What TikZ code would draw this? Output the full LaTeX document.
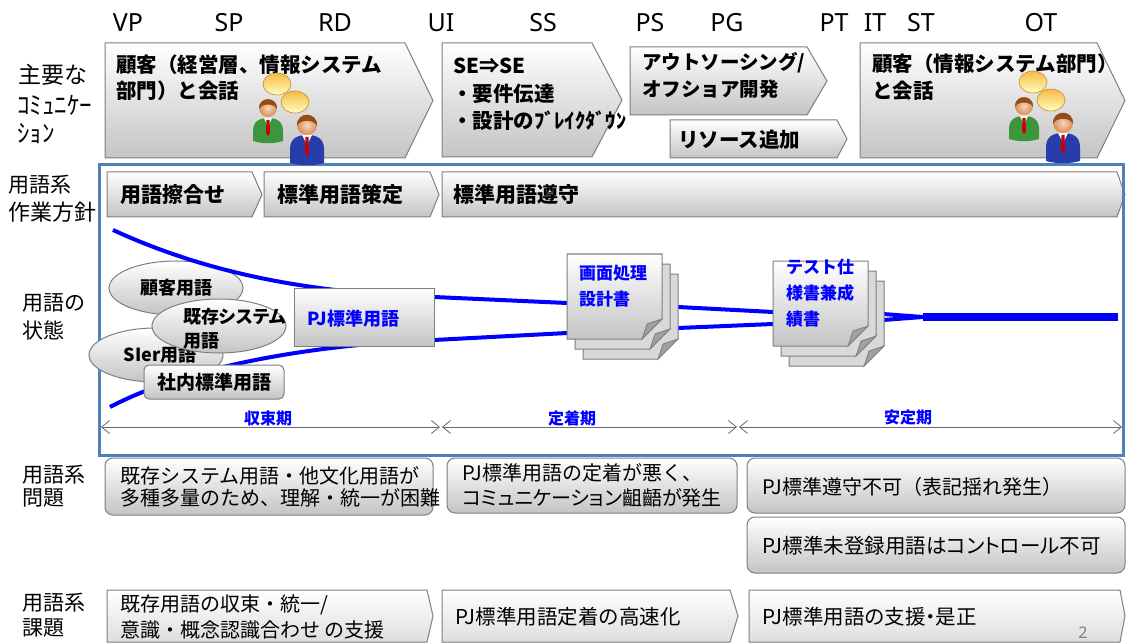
\documentclass[tikz,border=0pt]{standalone}
\usepackage{fontspec}
\setmainfont{Noto Sans CJK JP}
\newfontfamily\jpui{Noto Sans CJK JP}[RawFeature=+palt]
\newfontfamily\latf{Noto Sans}
\usetikzlibrary{arrows.meta,shapes.geometric}

\definecolor{edgegray}{RGB}{127,127,127}
\definecolor{shadelo}{RGB}{196,196,196}
\definecolor{shadelight}{RGB}{222,222,222}
\definecolor{framec}{RGB}{79,129,189}
\definecolor{termblue}{RGB}{0,0,255}
\definecolor{dimc}{RGB}{105,105,105}
\definecolor{backpage}{RGB}{217,217,217}
\definecolor{foldc}{RGB}{160,160,160}
\definecolor{skin}{RGB}{220,140,80}
\definecolor{hair}{RGB}{150,75,25}
\definecolor{shirtg}{RGB}{60,150,60}
\definecolor{shirtb}{RGB}{40,60,170}
\definecolor{bubblec}{RGB}{245,185,70}
\definecolor{bubbleedge}{RGB}{200,140,40}

\newcommand\arrowshape[6]{%
  \path[#1] (#2,#3) -- (#4,#3) -- (#5,{(#3+#6)/2}) -- (#4,#6) -- (#2,#6) -- cycle;}

\tikzset{
  chev/.style={draw=edgegray, line width=1pt, top color=white, bottom color=shadelo},
  taskchev/.style={draw=edgegray, line width=1pt, top color=white, bottom color=shadelight},
  issuebox/.style={draw=edgegray, line width=1pt, rounded corners=8pt,
    top color=white, bottom color=shadelo},
  oval/.style={ellipse, draw=edgegray, line width=1pt, top color=white,
    bottom color=shadelo, inner sep=0pt, font=\fontsize{18}{22}\selectfont\bfseries\jpui},
  termbox/.style={draw=edgegray, line width=1pt, top color=white, bottom color=shadelo},
  rowlabel/.style={anchor=west, inner sep=0pt, font=\fontsize{21}{24}\selectfont},
  halfkana/.style={anchor=west, inner sep=0pt, font=\fontsize{25}{28}\selectfont},
  phase/.style={inner sep=0pt, font=\fontsize{25}{28}\selectfont\latf},
  chevtext/.style={anchor=west, inner sep=0pt, font=\fontsize{20.5}{24}\selectfont\bfseries},
  bartext/.style={anchor=west, inner sep=0pt, font=\fontsize{21}{24}\selectfont\bfseries},
  doctext/.style={anchor=west, inner sep=0pt, text=termblue, font=\fontsize{17}{20}\selectfont\bfseries},
  periodtext/.style={inner sep=0pt, text=termblue, font=\fontsize{16}{18}\selectfont\bfseries},
  issuetext/.style={anchor=west, inner sep=0pt, font=\fontsize{20}{24}\selectfont},
  narrowtext/.style={anchor=west, inner sep=0pt, font=\fontsize{20}{24}\selectfont\jpui},
  tasktext/.style={anchor=west, inner sep=0pt, font=\fontsize{20.5}{24}\selectfont},
  termline/.style={draw=termblue, line width=4pt},
  dimline/.style={draw=dimc, line width=0.8pt,
    {Straight Barb[length=8pt,width=13pt]}-{Straight Barb[length=8pt,width=13pt]}},
  bubble/.style={draw=bubbleedge, line width=0.6pt, top color=bubblec, bottom color=yellow!25},
  talkers/.pic={
    % speech bubbles
    \path[bubble] (9,-23) ellipse [x radius=14, y radius=11];
    \path[bubble] (27,-5) ellipse [x radius=14, y radius=11];
    % left person
    \fill[shirtg] (-15,34) -- (-15,24) .. controls (-15,14) and (-8,11) .. (0,11)
      .. controls (8,11) and (15,14) .. (15,24) -- (15,34) .. controls (5,37) and (-5,37) .. cycle;
    \fill[white] (-4,11) -- (4,11) -- (0,20) -- cycle;
    \fill[red!80!black] (-1.5,13) -- (1.5,13) -- (2,26) -- (0,29) -- (-2,26) -- cycle;
    \shade[inner color=skin!35!white, outer color=skin] (0,1) circle (9);
    \fill[hair] (-9,2) .. controls (-10,-11) and (10,-11) .. (9,2)
      .. controls (6,-4) and (-6,-4) .. cycle;
    % right person
    \fill[shirtb] (22,56) -- (22,42) .. controls (22,31) and (30,28) .. (39,28)
      .. controls (48,28) and (56,31) .. (56,42) -- (56,56) .. controls (45,59) and (33,59) .. cycle;
    \fill[white] (34,28) -- (44,28) -- (39,38) -- cycle;
    \fill[red!80!black] (37.5,30) -- (40.5,30) -- (41,46) -- (39,49) -- (37,46) -- cycle;
    \shade[inner color=skin!35!white, outer color=skin] (39,18) circle (10);
    \fill[hair] (29,19) .. controls (28,4) and (50,4) .. (49,19)
      .. controls (46,12) and (32,12) .. cycle;
  },
  docstack/.pic={
    \foreach \o/\p in {16/20,8/10}{
      \path[draw=edgegray, line width=1pt, fill=backpage]
        (\o,\p) -- ++(95,0) -- ++(0,65) -- ++(-20,20) -- ++(-75,0) -- cycle;
      \path[draw=edgegray, line width=0.8pt, fill=foldc]
        (\o+95,\p+65) -- (\o+75,\p+85) -- (\o+80,\p+70) -- cycle;
    }
    \path[draw=edgegray, line width=1pt, top color=white, bottom color=shadelo]
      (0,0) -- (95,0) -- (95,65) -- (75,85) -- (0,85) -- cycle;
    \path[draw=edgegray, line width=0.8pt, fill=foldc]
      (95,65) -- (75,85) -- (80,70) -- cycle;
  }
}

\begin{document}
\begin{tikzpicture}[x=1pt,y=-1pt]
\useasboundingbox (0,0) rectangle (1126,644);
\fill[white] (0,0) rectangle (1126,644);

% ---------- phase abbreviations ----------
\node[phase] (vp) at (128,23) {VP};
\node[phase] (sp) at (229,23) {SP};
\node[phase] (rd) at (335,23) {RD};
\node[phase] (ui) at (441,23) {UI};
\node[phase] (ss) at (543,23) {SS};
\node[phase] (ps) at (650,23) {PS};
\node[phase] (pg) at (727,23) {PG};
\node[phase] (pt) at (834,23) {PT};
\node[phase] (it) at (875,23) {IT};
\node[phase] (st) at (921,23) {ST};
\node[phase] (ot) at (1041,23) {OT};

% ---------- row labels ----------
\node[rowlabel, font=\fontsize{23}{26}\selectfont] (lab1a) at (18,75) {主要な};
\node[halfkana] (lab1b) at (17,105) {ｺﾐｭﾆｹｰ};
\node[halfkana] (lab1c) at (17,133) {ｼｮﾝ};
\node[rowlabel] (lab2a) at (8,185) {用語系};
\node[rowlabel, font=\fontsize{22}{26}\selectfont] (lab2b) at (8,212) {作業方針};
\node[rowlabel] (lab3a) at (22,303) {用語の};
\node[rowlabel] (lab3b) at (22,330) {状態};
\node[rowlabel] (lab4a) at (22,475) {用語系};
\node[rowlabel] (lab4b) at (22,498) {問題};
\node[rowlabel] (lab5a) at (22,603) {用語系};
\node[rowlabel] (lab5b) at (22,628) {課題};

% ---------- communication row ----------
\arrowshape{chev}{105}{43}{405}{433}{158}
\arrowshape{chev}{442}{43}{592}{622}{157}
\arrowshape{chev}{630}{47}{807}{827}{115}
\arrowshape{chev}{670}{120}{837}{847}{158}
\arrowshape{chev}{860}{43}{1097}{1125}{158}

\node[chevtext] (c1a) at (116,65) {顧客（経営層、情報システム};
\node[chevtext] (c1b) at (116,91) {部門）と会話};
\node[chevtext] (c2a) at (453,66) {SE⇒SE};
\node[chevtext] (c2b) at (452,94) {・要件伝達};
\node[chevtext] (c2c) at (452,121) {・設計のﾌﾞﾚｲｸﾀﾞｳﾝ};
\node[chevtext, font=\fontsize{19.5}{24}\selectfont\bfseries] (c3a) at (642,63) {アウトソーシング/};
\node[chevtext, font=\fontsize{19.5}{24}\selectfont\bfseries] (c3b) at (642,89) {オフショア開発};
\node[chevtext] (c4) at (678,140) {リソース追加};
\node[chevtext] (c5a) at (872,64) {顧客（情報システム部門）};
\node[chevtext] (c5b) at (872,91) {と会話};

% ---------- policy row ----------
\arrowshape{chev}{107}{172}{252}{262}{217}
\arrowshape{chev}{264}{172}{430}{439}{217}
\arrowshape{chev}{442}{172}{1117}{1125}{217}
\node[bartext] (p1) at (120,195) {用語擦合せ};
\node[bartext] (p2) at (277,195) {標準用語策定};
\node[bartext] (p3) at (453,195) {標準用語遵守};

% ---------- state frame ----------
\draw[framec, line width=3pt] (99,165) rectangle (1123,455);

\pic at (268,107) {talkers};
\pic at (1024,105) {talkers};

% ---------- term clouds ----------
\node[oval, minimum width=134, minimum height=54] (cust) at (176,288) {顧客用語};
\node[oval, minimum width=134, minimum height=54] (sier) at (156,355) {\hspace*{8pt}SIer用語};
\node[oval, minimum width=134, minimum height=54] (legacy) at (219,326) {};
\node[anchor=west, inner sep=0pt, font=\fontsize{18}{22}\selectfont\bfseries\jpui]
  (legacya) at (183,317) {既存システム};
\node[anchor=west, inner sep=0pt, font=\fontsize{18}{22}\selectfont\bfseries\jpui]
  (legacyb) at (183,341) {用語};

% ---------- convergence lines ----------
\coordinate (ua) at (113,230);
\coordinate (ub) at (434,297);
\coordinate (uc) at (567,303);
\coordinate (ud) at (678,307);
\coordinate (ue) at (773,312);
\coordinate (uf) at (883,314);
\coordinate (la) at (110,407);
\coordinate (lb) at (434,340);
\coordinate (lc) at (567,333);
\coordinate (ld) at (678,328);
\coordinate (le) at (773,324);
\coordinate (lf) at (883,320);
\coordinate (merge) at (923,317);
\coordinate (tail) at (1118,317);

\path[termline] (ua) .. controls (200,270) and (300,293) .. (ub) -- (uc) -- (ud) -- (ue) -- (uf) -- (merge);
\path[termline] (la) .. controls (180,370) and (300,345) .. (lb) -- (lc) -- (ld) -- (le) -- (lf) -- (merge);
\path[draw=termblue, line width=8pt] (merge) -- (tail);

\node[termbox, rounded corners=5pt, minimum width=140, minimum height=34,
  font=\fontsize{19}{22}\selectfont\bfseries] (inhouse) at (214,382) {社内標準用語};
\node[termbox, minimum width=140, minimum height=58] (pj) at (364,317) {};
\node[anchor=west, inner sep=0pt, text=termblue, font=\fontsize{18}{22}\selectfont\bfseries]
  (pjt) at (307,319) {PJ標準用語};

% ---------- design documents ----------
\pic at (567,254) {docstack};
\node[doctext] (d1a) at (579,273) {画面処理};
\node[doctext] (d1b) at (579,299) {設計書};
\pic at (773,261) {docstack};
\node[doctext] (d2a) at (786,267) {テスト仕};
\node[doctext] (d2b) at (786,293) {様書兼成};
\node[doctext] (d2c) at (786,319) {績書};

% ---------- periods ----------
\coordinate (t0) at (101,427);
\coordinate (t1) at (440,427);
\coordinate (t2) at (442,427);
\coordinate (t3) at (737,427);
\coordinate (t4) at (739,427);
\coordinate (t5) at (1122,427);
\path[dimline] (t0) -- (t1);
\path[dimline] (t2) -- (t3);
\path[dimline] (t4) -- (t5);
\node[periodtext] (per1) at (268,418) {収束期};
\node[periodtext] (per2) at (572,418) {定着期};
\node[periodtext] (per3) at (908,417) {安定期};

% ---------- issues ----------
\path[issuebox] (105,458) rectangle (433,515);
\path[issuebox] (447,458) rectangle (737,513);
\path[issuebox] (747,458) rectangle (1125,513);
\path[issuebox] (747,517) rectangle (1125,573);
\node[issuetext] (i1a) at (120,476) {既存システム用語・他文化用語が};
\node[issuetext] (i1b) at (120,498) {多種多量のため、理解・統一が困難};
\node[issuetext] (i2a) at (462,473) {PJ標準用語の定着が悪く、};
\node[narrowtext] (i2b) at (462,498) {コミュニケーション齟齬が発生};
\node[issuetext] (i3) at (762,487) {PJ標準遵守不可（表記揺れ発生）};
\node[narrowtext, font=\fontsize{20.5}{24}\selectfont\jpui] (i4) at (762,546) {PJ標準未登録用語はコントロール不可};

% ---------- tasks ----------
\arrowshape{taskchev}{107}{590}{427}{433}{642}
\arrowshape{taskchev}{442}{590}{730}{738}{642}
\arrowshape{taskchev}{749}{590}{1120}{1125}{642}
\node[issuetext] (k1a) at (120,605) {既存用語の収束・統一/};
\node[issuetext] (k1b) at (120,630) {意識・概念認識合わせ の支援};
\node[tasktext] (k2) at (455,617) {PJ標準用語定着の高速化};
\node[tasktext, font=\fontsize{20.5}{24}\selectfont\jpui] (k3) at (762,617) {PJ標準用語の支援・是正};

\node[inner sep=0pt, text=gray, font=\fontsize{16}{18}\selectfont\latf] (pageno) at (1083,633) {2};
\end{tikzpicture}
\end{document}
